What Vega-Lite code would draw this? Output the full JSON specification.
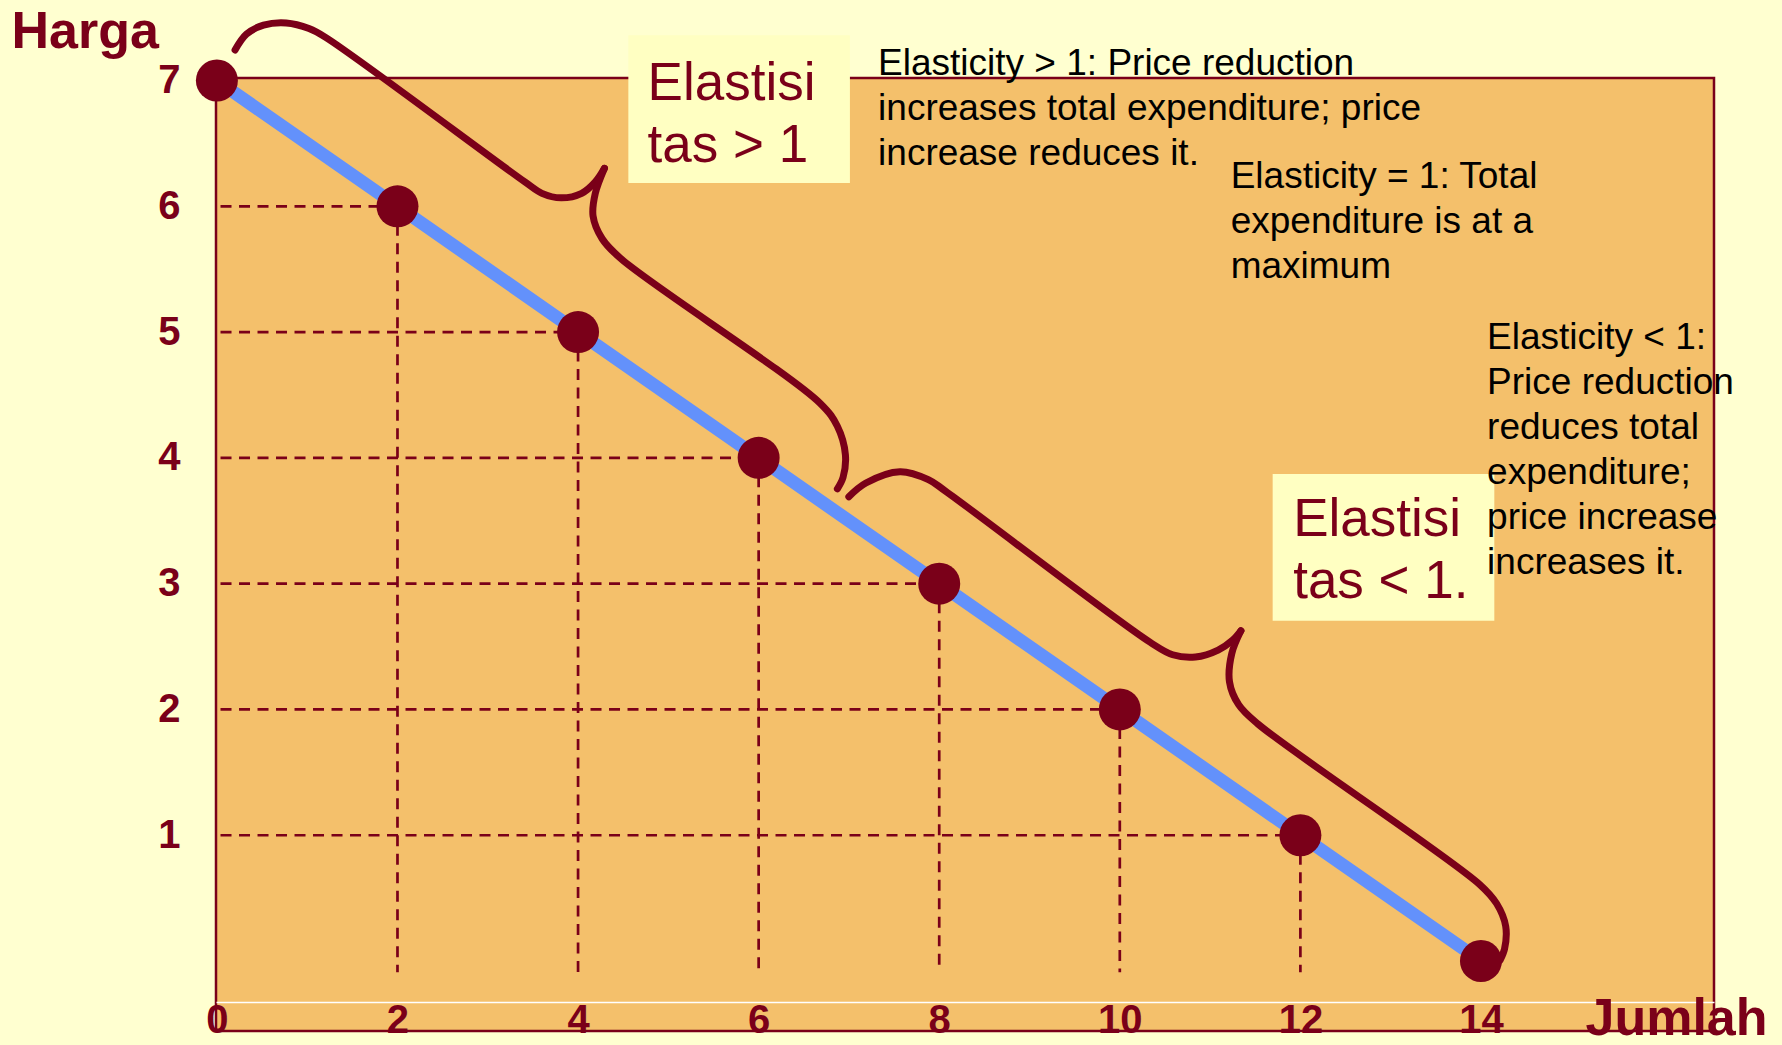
{
  "$schema": "https://vega.github.io/schema/vega-lite/v6.json",
  "width": 1498,
  "height": 953,
  "autosize": {"type": "none"},
  "padding": {"left": 216, "top": 78, "right": 68, "bottom": 14},
  "background": "#ffffd0",
  "config": {
    "view": {"fill": "#f4c06b", "stroke": "#7a0019", "strokeWidth": 2.5},
    "font": "Liberation Sans"
  },
  "datasets": {
    "demand": [
      {"q": 0, "p": 7}, {"q": 2, "p": 6}, {"q": 4, "p": 5}, {"q": 6, "p": 4},
      {"q": 8, "p": 3}, {"q": 10, "p": 2}, {"q": 12, "p": 1}, {"q": 14, "p": 0}
    ],
    "hdash": [
      {"q": 0.04, "q2": 2, "p": 6}, {"q": 0.04, "q2": 4, "p": 5},
      {"q": 0.04, "q2": 6, "p": 4}, {"q": 0.04, "q2": 8, "p": 3},
      {"q": 0.04, "q2": 10, "p": 2}, {"q": 0.04, "q2": 12, "p": 1}
    ],
    "vdash": [
      {"q": 2, "p": 6, "p2": -0.09}, {"q": 4, "p": 5, "p2": -0.09},
      {"q": 6, "p": 4, "p2": -0.09}, {"q": 8, "p": 3, "p2": -0.09},
      {"q": 10, "p": 2, "p2": -0.09}, {"q": 12, "p": 1, "p2": -0.09}
    ],
    "braces": [
      {"seg": "a1", "i": 1, "q": 0.201, "p": 7.242},
      {"seg": "a1", "i": 2, "q": 0.327, "p": 7.368},
      {"seg": "a1", "i": 3, "q": 0.516, "p": 7.440},
      {"seg": "a1", "i": 4, "q": 0.768, "p": 7.458},
      {"seg": "a1", "i": 5, "q": 1.020, "p": 7.413},
      {"seg": "a1", "i": 6, "q": 1.208, "p": 7.341},
      {"seg": "a1", "i": 7, "q": 3.411, "p": 6.194},
      {"seg": "a1", "i": 8, "q": 3.600, "p": 6.103},
      {"seg": "a1", "i": 9, "q": 3.813, "p": 6.067},
      {"seg": "a1", "i": 10, "q": 4.040, "p": 6.103},
      {"seg": "a1", "i": 11, "q": 4.191, "p": 6.194},
      {"seg": "a1", "i": 12, "q": 4.292, "p": 6.302},
      {"seg": "a2", "i": 1, "q": 4.292, "p": 6.302},
      {"seg": "a2", "i": 2, "q": 4.191, "p": 6.103},
      {"seg": "a2", "i": 3, "q": 4.166, "p": 5.923},
      {"seg": "a2", "i": 4, "q": 4.267, "p": 5.742},
      {"seg": "a2", "i": 5, "q": 4.481, "p": 5.579},
      {"seg": "a2", "i": 6, "q": 6.683, "p": 4.432},
      {"seg": "a2", "i": 7, "q": 6.872, "p": 4.251},
      {"seg": "a2", "i": 8, "q": 6.961, "p": 4.025},
      {"seg": "a2", "i": 9, "q": 6.935, "p": 3.845},
      {"seg": "a2", "i": 10, "q": 6.872, "p": 3.754},
      {"seg": "b1", "i": 1, "q": 6.999, "p": 3.691},
      {"seg": "b1", "i": 2, "q": 7.188, "p": 3.800},
      {"seg": "b1", "i": 3, "q": 7.565, "p": 3.890},
      {"seg": "b1", "i": 4, "q": 7.880, "p": 3.827},
      {"seg": "b1", "i": 5, "q": 8.069, "p": 3.736},
      {"seg": "b1", "i": 6, "q": 10.334, "p": 2.535},
      {"seg": "b1", "i": 7, "q": 10.586, "p": 2.435},
      {"seg": "b1", "i": 8, "q": 10.838, "p": 2.417},
      {"seg": "b1", "i": 9, "q": 11.089, "p": 2.472},
      {"seg": "b1", "i": 10, "q": 11.253, "p": 2.553},
      {"seg": "b1", "i": 11, "q": 11.341, "p": 2.625},
      {"seg": "b2", "i": 1, "q": 11.341, "p": 2.625},
      {"seg": "b2", "i": 2, "q": 11.240, "p": 2.444},
      {"seg": "b2", "i": 3, "q": 11.215, "p": 2.219},
      {"seg": "b2", "i": 4, "q": 11.316, "p": 2.038},
      {"seg": "b2", "i": 5, "q": 11.530, "p": 1.884},
      {"seg": "b2", "i": 6, "q": 13.984, "p": 0.610},
      {"seg": "b2", "i": 7, "q": 14.173, "p": 0.457},
      {"seg": "b2", "i": 8, "q": 14.274, "p": 0.276},
      {"seg": "b2", "i": 9, "q": 14.261, "p": 0.095},
      {"seg": "b2", "i": 10, "q": 14.211, "p": 0.005}
    ],
    "boxes": [
      {"q": 4.557, "q2": 7.011, "p": 7.359, "p2": 6.185},
      {"q": 11.693, "q2": 14.148, "p": 3.872, "p2": 2.706}
    ],
    "boxtext": [
      {"q": 4.770, "p": 6.844, "text": "Elastisi\ntas > 1"},
      {"q": 11.920, "p": 3.378, "text": "Elastisi\ntas < 1."}
    ],
    "notes": [
      {"q": 7.323, "p": 7.043, "text": "Elasticity > 1: Price reduction\nincreases total expenditure; price\nincrease reduces it."},
      {"q": 11.228, "p": 6.149, "text": "Elasticity = 1: Total\nexpenditure is at a\nmaximum"},
      {"q": 14.068, "p": 4.865, "text": "Elasticity < 1:\nPrice reduction\nreduces total\nexpenditure;\nprice increase\nincreases it."}
    ]
  },
  "encoding": {
    "x": {
      "field": "q", "type": "quantitative",
      "scale": {"domain": [-0.01, 16.581], "nice": false, "zero": false},
      "axis": {
        "values": [0, 2, 4, 6, 8, 10, 12, 14],
        "offset": -29,
        "domainColor": "#ffffff", "domainWidth": 1.5,
        "ticks": false, "tickSize": 0, "grid": false,
        "labelFont": "Liberation Sans", "labelFontSize": 40, "labelFontWeight": "bold",
        "labelColor": "#7a0019", "labelBaseline": "middle", "labelPadding": 18,
        "labelFlush": false, "labelOverlap": false,
        "title": "Jumlah", "titleFont": "Liberation Sans", "titleFontSize": 52, "titleFontWeight": "bold",
        "titleColor": "#7a0019", "titleX": 1369, "titleY": 16, "titleAlign": "left", "titleBaseline": "middle"
      }
    },
    "y": {
      "field": "p", "type": "quantitative",
      "scale": {"domain": [-0.5564, 7.0199], "nice": false, "zero": false},
      "axis": {
        "values": [1, 2, 3, 4, 5, 6, 7],
        "domain": false, "ticks": false, "tickSize": 0, "grid": false,
        "labelFont": "Liberation Sans", "labelFontSize": 40, "labelFontWeight": "bold",
        "labelColor": "#7a0019", "labelPadding": 36, "labelBaseline": "middle",
        "labelFlush": false, "labelOverlap": false,
        "title": "Harga", "titleFont": "Liberation Sans", "titleAngle": 0, "titleX": -205, "titleY": -31,
        "titleAlign": "left", "titleBaseline": "alphabetic",
        "titleFontSize": 52, "titleFontWeight": "bold", "titleColor": "#7a0019"
      }
    }
  },
  "layer": [
    {
      "data": {"name": "hdash"},
      "mark": {"type": "rule", "color": "#7a0019", "strokeWidth": 2.7, "strokeDash": [11, 7.5]},
      "encoding": {"x2": {"field": "q2"}}
    },
    {
      "data": {"name": "vdash"},
      "mark": {"type": "rule", "color": "#7a0019", "strokeWidth": 2.7, "strokeDash": [11, 7.5]},
      "encoding": {"y2": {"field": "p2"}}
    },
    {
      "data": {"name": "demand"},
      "mark": {"type": "line", "color": "#6391fb", "strokeWidth": 13},
      "encoding": {}
    },
    {
      "data": {"name": "braces"},
      "mark": {"type": "line", "color": "#7a0019", "strokeWidth": 7, "interpolate": "catmull-rom", "strokeCap": "round"},
      "encoding": {
        "detail": {"field": "seg", "type": "nominal"},
        "order": {"field": "i", "type": "quantitative"}
      }
    },
    {
      "data": {"name": "demand"},
      "mark": {"type": "circle", "color": "#7a0019", "size": 1764, "opacity": 1}
    },
    {
      "data": {"name": "boxes"},
      "mark": {"type": "rect", "color": "#ffffc2"},
      "encoding": {"x2": {"field": "q2"}, "y2": {"field": "p2"}}
    },
    {
      "data": {"name": "boxtext"},
      "mark": {"type": "text", "align": "left", "baseline": "alphabetic", "fontSize": 53, "lineHeight": 62, "lineBreak": "\n", "color": "#7a0019", "font": "Liberation Sans"},
      "encoding": {"text": {"field": "text", "type": "nominal"}}
    },
    {
      "data": {"name": "notes"},
      "mark": {"type": "text", "align": "left", "baseline": "alphabetic", "fontSize": 37, "lineHeight": 45, "lineBreak": "\n", "color": "#000000", "font": "Liberation Sans"},
      "encoding": {"text": {"field": "text", "type": "nominal"}}
    }
  ]
}
